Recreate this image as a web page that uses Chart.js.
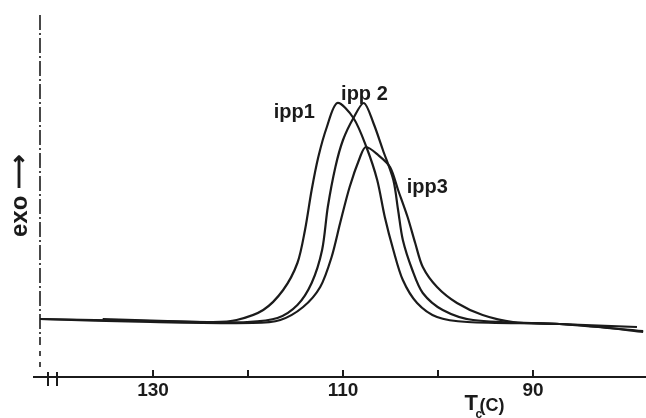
<!DOCTYPE html>
<html>
<head>
<meta charset="utf-8">
<script src="https://cdn.jsdelivr.net/npm/chart.js@4.4.1/dist/chart.umd.min.js"></script>
<style>
  body { margin: 0; background: #fff; }
  #wrap { width: 646px; height: 418px; }
</style>
</head>
<body>
<div id="wrap"><canvas id="chart" width="646" height="418"></canvas></div>
<script>
// crystallization temperature (C)
const ipp1T = [141.9, 130.3, 123.7, 121.2, 118.4, 116.3, 114.8, 114.0, 113.3, 112.6, 111.7, 110.6, 108.9, 107.5, 106.4, 105.6, 104.7, 103.7, 102.2, 100.1, 96.9, 87.2, 82.9, 78.4];
const ipp1Y = [58, 56, 55, 57, 67, 87, 114, 147, 187, 220, 250, 274, 259, 229, 197, 160, 127, 97, 74, 60, 55, 53, 50, 45];

const ipp2T = [135.3, 125.05, 120.1, 116.9, 114.8, 113.3, 112.2, 111.6, 110.8, 110.0, 108.9, 107.8, 106.8, 105.8, 104.7, 104.2, 103.7, 102.7, 101.6, 99.5, 96.3, 87.2, 79.05];
const ipp2Y = [58, 55, 55, 59, 72, 94, 127, 170, 210, 237, 259, 274, 254, 227, 197, 167, 137, 107, 84, 67, 57, 53, 50];

const ipp3T = [141.9, 130.3, 119.5, 116.6, 114.2, 112.4, 111.2, 110.3, 109.3, 108.2, 107.6, 106.3, 105.05, 104.2, 103.2, 102.4, 101.6, 100.1, 98.0, 95.3, 92.1, 87.2, 78.4];
const ipp3Y = [58, 55, 54, 57, 70, 90, 120, 154, 190, 220, 230, 222, 210, 187, 160, 134, 110, 90, 74, 62, 55, 53, 46];

const tickValues = [130, 120, 110, 100, 90];
const tickLabels = ["130", "", "110", "", "90"];

// curve labels: [text, T, y]
const curveLabels = [["ipp1", 117.3, 259], ["ipp 2", 110.2, 277], ["ipp3", 103.3, 184]];

const ink = "#1b1b1b";
const toPts = (t, y) => t.map((v, i) => ({ x: v, y: y[i] }));

const extras = {
  id: "extras",
  afterDraw(c) {
    const ctx = c.ctx, x = c.scales.x, y = c.scales.y;
    const ax = c.chartArea.bottom, left = c.chartArea.left;
    ctx.save();
    ctx.strokeStyle = ink;
    ctx.fillStyle = ink;
    // dash-dot vertical line on the left
    ctx.lineWidth = 1.6;
    ctx.setLineDash([15, 3, 2, 3]);
    ctx.beginPath(); ctx.moveTo(left, 15); ctx.lineTo(left, 340); ctx.stroke();
    ctx.setLineDash([5, 6]);
    ctx.beginPath(); ctx.moveTo(left, 340); ctx.lineTo(left, ax - 4); ctx.stroke();
    ctx.setLineDash([]);
    ctx.lineWidth = 2;
    // upward ticks
    tickValues.forEach(v => {
      const px = x.getPixelForValue(v);
      ctx.beginPath(); ctx.moveTo(px, ax); ctx.lineTo(px, ax - 7); ctx.stroke();
    });
    // axis stub and break marks
    ctx.beginPath(); ctx.moveTo(33, ax); ctx.lineTo(left, ax); ctx.stroke();
    [48, 57].forEach(px => {
      ctx.beginPath(); ctx.moveTo(px, ax - 5); ctx.lineTo(px, ax + 9); ctx.stroke();
    });
    // curve labels
    ctx.font = "bold 20px 'Liberation Sans', Arial, sans-serif";
    ctx.textBaseline = "alphabetic";
    curveLabels.forEach(([t, tv, yv]) => {
      ctx.fillText(t, x.getPixelForValue(tv), y.getPixelForValue(yv));
    });
    // axis name T_c(C)
    const tx = x.getPixelForValue(97.2);
    ctx.font = "bold 22px 'Liberation Sans', Arial, sans-serif";
    ctx.fillText("T", tx, 410);
    ctx.font = "bold 12px 'Liberation Sans', Arial, sans-serif";
    ctx.fillText("c", tx + 11, 418);
    ctx.font = "bold 18px 'Liberation Sans', Arial, sans-serif";
    ctx.fillText("(C)", tx + 15, 411);
    ctx.restore();
  }
};

const line = (label, t, yv) => ({
  label: label,
  data: toPts(t, yv),
  borderColor: ink,
  borderWidth: 2.2,
  pointRadius: 0,
  tension: 0.3,
  fill: false
});

new Chart(document.getElementById("chart"), {
  type: "line",
  data: {
    datasets: [line("ipp1", ipp1T, ipp1Y), line("ipp2", ipp2T, ipp2Y), line("ipp3", ipp3T, ipp3Y)]
  },
  options: {
    responsive: false,
    devicePixelRatio: 1,
    animation: false,
    layout: { padding: { top: 15, right: 0, left: 0, bottom: 0 } },
    plugins: { legend: { display: false }, tooltip: { enabled: false } },
    scales: {
      x: {
        type: "linear",
        reverse: true,
        min: 78.1,
        max: 141.9,
        afterBuildTicks: s => { s.ticks = tickValues.map(v => ({ value: v })); },
        afterFit: s => { s.height = 41; },
        grid: { display: false, drawTicks: false },
        border: { display: true, color: ink, width: 2 },
        ticks: {
          padding: 2,
          maxRotation: 0,
          autoSkip: false,
          color: ink,
          font: { family: "'Liberation Sans', Arial, sans-serif", size: 19, weight: "bold" },
          callback: (v, i) => tickLabels[i]
        }
      },
      y: {
        min: 0,
        max: 362,
        afterFit: s => { s.width = 40; },
        grid: { display: false, drawTicks: false },
        border: { display: false },
        ticks: { display: false },
        title: {
          display: true,
          text: "exo \u27F6",
          color: ink,
          padding: { top: 6, bottom: 0 },
          font: { family: "'Liberation Sans', Arial, sans-serif", size: 24, weight: "bold" }
        }
      }
    }
  },
  plugins: [extras]
});
</script>
</body>
</html>
